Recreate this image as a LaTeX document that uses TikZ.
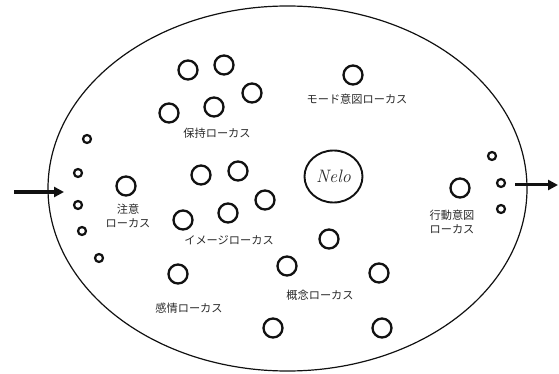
\documentclass[tikz,border=0pt]{standalone}
\usepackage{fontspec}
\newfontfamily\jpfont{Noto Sans CJK JP}
\usetikzlibrary{arrows.meta, shapes.geometric}
\definecolor{lcInk}{HTML}{111111}
\definecolor{lcText}{HTML}{2A2A2A}
\tikzset{
  space/.style={draw=lcInk, line width=1.2pt, ellipse, inner sep=0pt,
    minimum width=479pt, minimum height=365pt},
  locus/.style={circle, draw=lcInk, line width=2.3pt, inner sep=0pt, minimum size=19pt},
  port/.style={circle, draw=lcInk, line width=2.2pt, inner sep=0pt, minimum size=8pt},
  core/.style={ellipse, draw=lcInk, line width=1.9pt, inner sep=0pt,
    minimum width=58pt, minimum height=52pt, font=\fontsize{18}{18}\selectfont\itshape, text=lcText},
  lbl/.style={font=\jpfont\fontsize{11.2}{13.5}\selectfont, text=lcText, inner sep=0pt, align=center},
  flow/.style={-{Triangle[length=10pt, width=10pt]}, line width=3pt, draw=lcInk},
}
\begin{document}
\begin{tikzpicture}[x=1pt, y=-1pt]
  \useasboundingbox (0,0) rectangle (559,374);
  \node[space] (world) at (287.5,188.5) {};
  \node[core] (nelo) at (333.5,176.5) {Nelo};

  % input / output
  \coordinate (inS) at (14,192);
  \coordinate (inE) at (64,192);
  \coordinate (outS) at (515,185);
  \coordinate (outE) at (558,185);
  \draw[flow] (inS) -- (inE);
  \draw[flow] (outS) -- (outE);

  % ports
  \foreach \n/\x/\y in {p1/87/139, p2/78/173, p3/78/205, p4/82/231, p5/99/258,
                        q1/492/156, q2/501/183, q3/501/209}
    \node[port] (\n) at (\x,\y) {};

  % holding loci
  \node[locus] (hold1) at (188,70) {};
  \node[locus] (hold2) at (224,65) {};
  \node[locus] (hold3) at (252,93) {};
  \node[locus] (hold4) at (214,107) {};
  \node[locus] (hold5) at (169,113) {};
  \node[lbl] (holdL) at (217,133) {保持ローカス};

  % mode intention locus
  \node[locus] (mode) at (353,75) {};
  \node[lbl] (modeL) at (357,99) {モード意図ローカス};

  % attention locus
  \node[locus] (attn) at (126,186) {};
  \node[lbl] (attnL) at (128,216) {注意\\ローカス};

  % image loci
  \node[locus] (img1) at (201,175) {};
  \node[locus] (img2) at (238,171) {};
  \node[locus] (img3) at (265,200) {};
  \node[locus] (img4) at (183,220) {};
  \node[locus] (img5) at (228,213) {};
  \node[lbl] (imgL) at (229,240) {イメージローカス};

  % emotion locus
  \node[locus] (emo) at (178,274) {};
  \node[lbl] (emoL) at (189,308) {感情ローカス};

  % action intention locus
  \node[locus] (act) at (460,188) {};
  \node[lbl] (actL) at (452,222) {行動意図\\ローカス};

  % concept loci
  \node[locus] (con1) at (329,239) {};
  \node[locus] (con2) at (287,266) {};
  \node[locus] (con3) at (379,273) {};
  \node[locus] (con4) at (273,328) {};
  \node[locus] (con5) at (382,328) {};
  \node[lbl] (conL) at (320,295) {概念ローカス};
\end{tikzpicture}
\end{document}
